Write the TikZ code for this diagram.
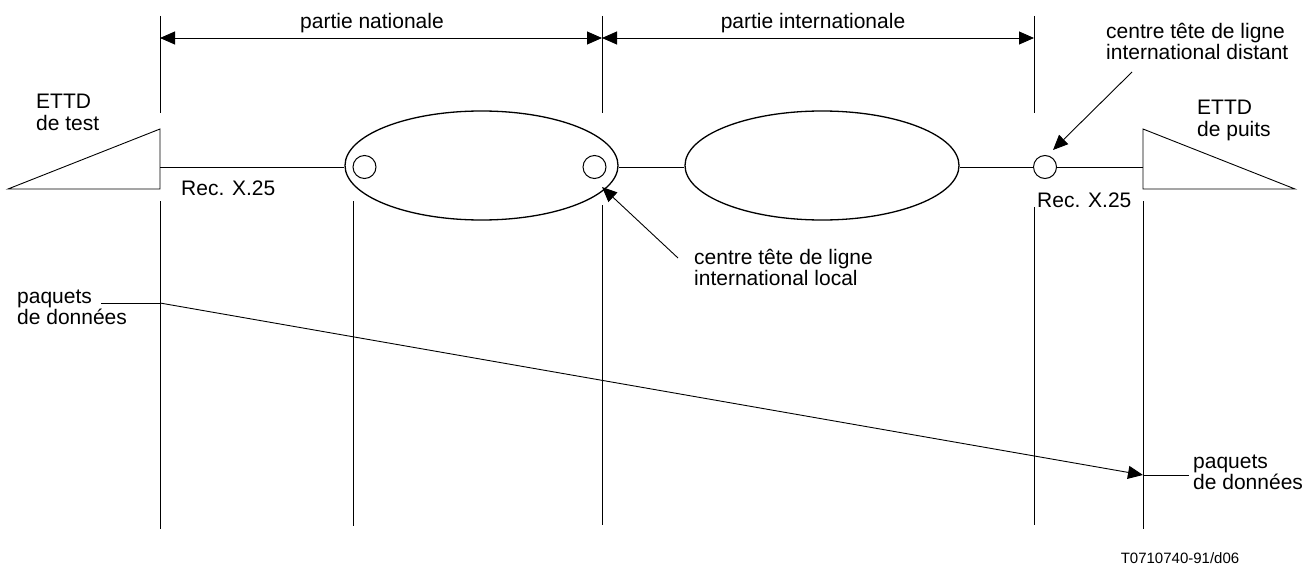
\documentclass[tikz,border=0pt]{standalone}
\usepackage{fontspec}
\setmainfont{Liberation Sans}
\usetikzlibrary{arrows.meta,shapes.geometric}
\begin{document}
\begin{tikzpicture}[x=1pt,y=-1pt,
  ln/.style={line width=0.9pt},
  oval/.style={draw,ellipse,line width=1.3pt,inner sep=0pt},
  ring/.style={draw,circle,line width=1pt,inner sep=0pt,minimum size=23pt},
  lbl/.style={inner sep=0pt,align=left,font=\fontsize{21}{21.5}\selectfont},
  ctr/.style={inner sep=0pt,font=\fontsize{21}{21.5}\selectfont},
  tip/.style={-{Triangle[length=15pt,width=13pt]}},
  dim/.style={{Triangle[length=15pt,width=13pt]}-{Triangle[length=15pt,width=13pt]}}]
\useasboundingbox (0,0) rectangle (1316,567);
% ellipses and rings
\node[oval,minimum width=273pt,minimum height=109pt] (e1) at (481.5,165.5) {};
\node[oval,minimum width=274pt,minimum height=109pt] (e2) at (822,165.5) {};
\node[ring] (c1) at (364.5,167) {};
\node[ring] (c2) at (594.5,167) {};
\node[ring] (c3) at (1045,167) {};
% triangles (DTEs)
\coordinate (tl) at (160,167);
\coordinate (tr) at (1143,167);
\draw[ln] (8,189) -- (160,129) -- (160,189) -- cycle;
\draw[ln] (1143,129) -- (1295,189) -- (1143,189) -- cycle;
% main line
\draw[ln] (tl) -- (e1.west |- tl);
\draw[ln] (e1.east |- tl) -- (e2.west |- tl);
\draw[ln] (e2.east |- tl) -- (c3.west);
\draw[ln] (c3.east) -- (tr);
% vertical lines
\draw[ln] (160,16) -- (160,113);
\draw[ln] (160,201) -- (160,529);
\draw[ln] (353,201) -- (353,526);
\draw[ln] (602,16) -- (602,113);
\draw[ln] (602,205) -- (602,525);
\draw[ln] (1034,16) -- (1034,113);
\draw[ln] (1034,207) -- (1034,525);
\draw[ln] (1143,201) -- (1143,529);
% dimension arrows
\coordinate (d1) at (160,38);
\coordinate (d2) at (602,38);
\coordinate (d3) at (1034,38);
\draw[ln,dim] (d1) -- (d2);
\draw[ln,dim] (d2) -- (d3);
\node[ctr] (pn) at (372,23) {partie nationale};
\node[ctr] (pi) at (813,23) {partie internationale};
% labels
\node[lbl,anchor=west] (ettd1) at (36,112.5) {ETTD\\de test};
\node[lbl,anchor=west] (ettd2) at (1197,120.5) {ETTD\\de puits};
\node[lbl,anchor=west] (rec1) at (181,188) {Rec. X.25};
\node[lbl,anchor=west] (rec2) at (1037,200) {Rec. X.25};
\node[lbl,anchor=west] (cdist) at (1106,41.5) {centre tête de ligne\\international distant};
\node[lbl,anchor=west] (cloc) at (694,267.5) {centre tête de ligne\\international local};
\node[lbl,anchor=west] (pq1) at (17,307.5) {paquets\\de données};
\node[lbl,anchor=west] (pq2) at (1193,472.5) {paquets\\de données};
\node[inner sep=0pt,font=\fontsize{15}{17}\selectfont] (ref) at (1180,558) {T0710740-91/d06};
% pointer arrows
\coordinate (a1s) at (1132,72);
\coordinate (a1e) at (1053,150);
\draw[ln,tip] (a1s) -- (a1e);
\coordinate (a2s) at (678,258);
\coordinate (a2e) at (602,187);
\draw[ln,tip] (a2s) -- (a2e);
% data packets
\coordinate (p0) at (101,303);
\coordinate (p1) at (160,303);
\coordinate (p2) at (1143,475);
\coordinate (p3) at (1189,475);
\draw[ln] (p0) -- (p1);
\draw[ln,tip] (p1) -- (p2);
\draw[ln] (p2) -- (p3);
\end{tikzpicture}
\end{document}
